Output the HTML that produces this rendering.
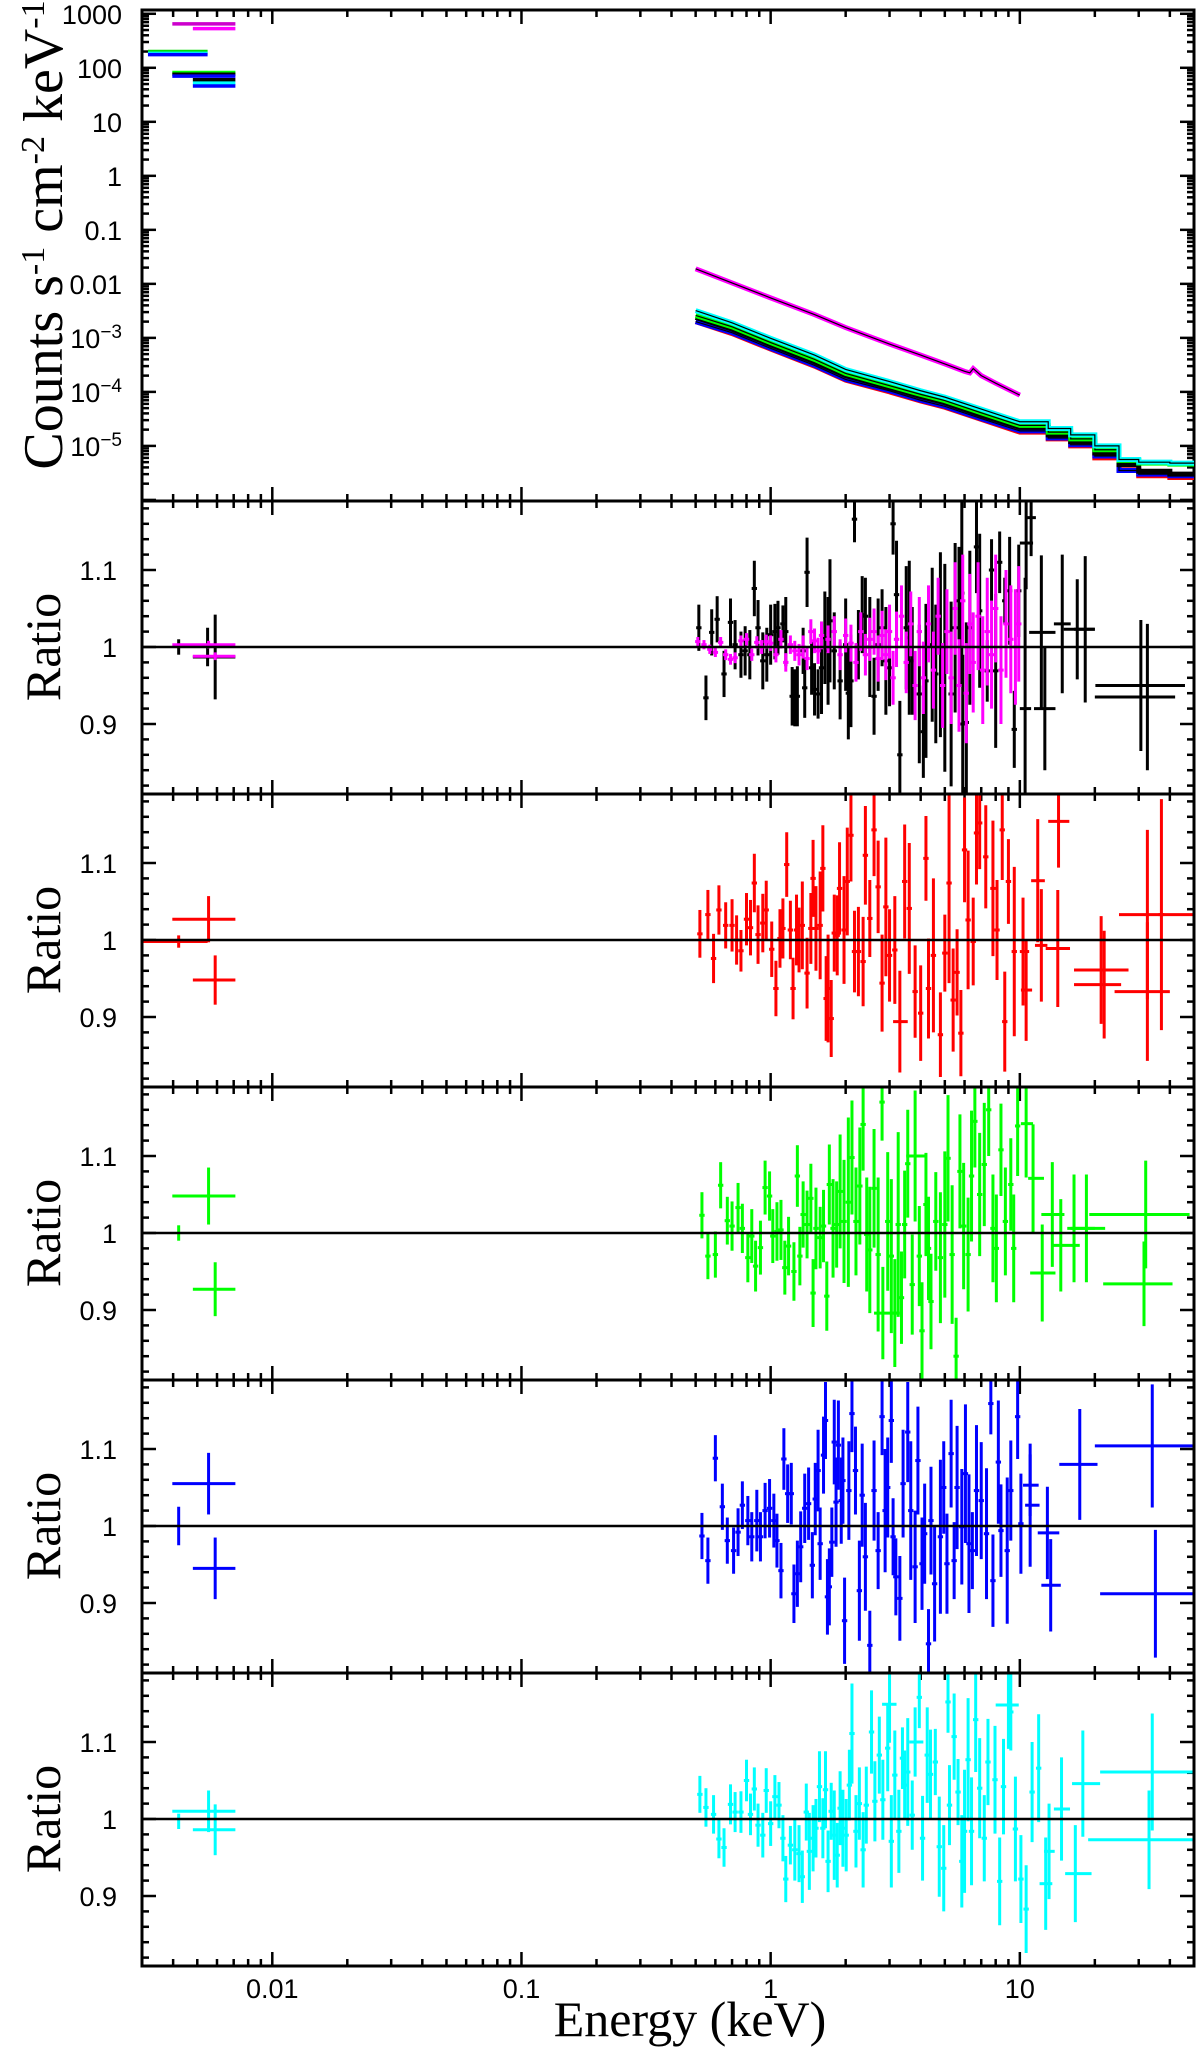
<!DOCTYPE html>
<html><head><meta charset="utf-8"><style>
html,body{margin:0;padding:0;background:#fff;}
svg{display:block;}
text{font-family:"Liberation Sans",sans-serif;}
.serif{font-family:"Liberation Serif",serif;}
</style></head>
<body>
<svg id="chart" width="1200" height="2056" viewBox="0 0 1200 2056" xmlns="http://www.w3.org/2000/svg">
<text class="serif" transform="translate(62,235) rotate(-90)" text-anchor="middle" font-size="56">Counts s<tspan baseline-shift="super" font-size="34">-1</tspan> cm<tspan baseline-shift="super" font-size="34">-2</tspan> keV<tspan baseline-shift="super" font-size="34">-1</tspan></text>
<text class="serif" x="690" y="2036" text-anchor="middle" font-size="50">Energy (keV)</text>
<g id="layer"></g>
</svg>
<script>
// ---------- data ----------
const xTickLabels = ["0.01","0.1","1","10"];
const xTickValues = [0.01,0.1,1,10];
const yTopTickValues = [1000,100,10,1,0.1,0.01,1e-3,1e-4,1e-5];
const yTopTickLabels = ["1000","100","10","1","0.1","0.01","10|−3","10|−4","10|−5"];
const ratioTickValues = [1.1,1,0.9];
const ratioTickLabels = ["1.1","1","0.9"];

// top-panel spectra (keV, counts s^-1 cm^-2 keV^-1)
const specE = [0.5,0.7,1,1.5,2,3,4,5,7,10,13,16,20,25,30,40,50];
const specBlack = [2.4e-3,1.45e-3,7.5e-4,3.6e-4,2.0e-4,1.2e-4,8.2e-5,6.3e-5,3.7e-5,2.2e-5,1.6e-5,1.2e-5,7.4e-6,4.5e-6,3.4e-6,3.0e-6,2.7e-6];
const specRed = [2.0e-3,1.2e-3,6.2e-4,3.0e-4,1.65e-4,1.0e-4,6.8e-5,5.2e-5,3.1e-5,1.8e-5,1.35e-5,1.0e-5,6.0e-6,3.6e-6,2.8e-6,2.6e-6,2.6e-6];
const specGreen = [2.6e-3,1.6e-3,8.2e-4,4.0e-4,2.2e-4,1.3e-4,9.0e-5,6.9e-5,4.1e-5,2.4e-5,1.8e-5,1.35e-5,8.5e-6,5.4e-6,4.8e-6,4.6e-6,4.6e-6];
const specBlue = [2.0e-3,1.25e-3,6.4e-4,3.1e-4,1.7e-4,1.05e-4,7.0e-5,5.4e-5,3.2e-5,1.9e-5,1.4e-5,1.05e-5,6.5e-6,3.5e-6,3.0e-6,2.8e-6,2.8e-6];
const specCyan = [3.2e-3,1.9e-3,9.8e-4,4.8e-4,2.6e-4,1.55e-4,1.05e-4,8.0e-5,4.8e-5,2.8e-5,2.1e-5,1.6e-5,1.0e-5,5.6e-6,5.0e-6,4.8e-6,4.8e-6];
const magE = [0.5,0.7,1,1.5,2,3,4,5,6,6.3,6.5,7,8,10];
const specMagenta = [0.019,0.0104,5.5e-3,2.7e-3,1.55e-3,7.7e-4,4.8e-4,3.3e-4,2.4e-4,2.25e-4,2.7e-4,2.0e-4,1.45e-4,8.7e-5];
// optical/UV bins in top panel: [Elo, Ehi, value, color]
const omTop = [[0.00397,0.00711,650,"#cc00cc"],[0.0048,0.00711,530,"#ff00ff"],[0.00317,0.0055,200,"#00dd00"],[0.00317,0.0055,185,"#00ffff"],[0.00317,0.0055,175,"#0000ff"],[0.00397,0.00711,82,"#00ff00"],[0.00397,0.00711,76,"#000000"],[0.00397,0.00711,70,"#0000ff"],[0.0048,0.00711,60,"#000000"],[0.0048,0.00711,52,"#00ffff"],[0.0048,0.00711,46,"#0000ff"]];

// ratio panels: optical points [Ec, Elo, Ehi, r, err]
const om1Black = [[0.00421,0.00421,0.00421,1.0,0.01],[0.0055,0.0055,0.0055,1.0,0.025],[0.0059,0.0048,0.00711,0.987,0.055]];
const om1Mag = [[0.00555,0.00397,0.00711,1.003,0.005],[0.0059,0.0048,0.00711,0.988,0.005]];
const om2 = [[0.00421,0.003,0.0055,0.998,0.008],[0.00555,0.00397,0.00711,1.027,0.03],[0.0059,0.0048,0.00711,0.948,0.032]];
const om3 = [[0.00421,0.00421,0.00421,1.0,0.01],[0.00555,0.00397,0.00711,1.048,0.037],[0.0059,0.0048,0.00711,0.927,0.035]];
const om4 = [[0.00421,0.00421,0.00421,1.0,0.025],[0.00555,0.00397,0.00711,1.055,0.04],[0.0059,0.0048,0.00711,0.945,0.04]];
const om5 = [[0.00421,0.00421,0.00421,0.997,0.01],[0.00555,0.00397,0.00711,1.01,0.027],[0.0059,0.0048,0.00711,0.986,0.033]];

// X-ray points [E, r, err]
const blackPts = [[0.515,1.025,.03],[0.55,.934,.029],[0.58,1.019,.03],[0.61,1.036,.03],[0.65,.965,.03],[0.69,1.032,.031],[0.72,1.003,.032],[0.76,.99,.03],[0.79,.995,.032],[0.825,.99,.032],[0.86,1.076,.036],[0.89,1.025,.036],[0.93,.982,.037],[0.965,.99,.035],[1.0,1.016,.039],[1.04,1.02,.036],[1.07,1.025,.035],[1.12,1.03,.024],[1.15,1.02,.045],[1.22,.936,.038],[1.25,.934,.037],[1.28,.936,.039],[1.35,.995,.03],[1.37,.947,.039],[1.4,1.097,.045],[1.46,.973,.035],[1.5,.945,.034],[1.55,.939,.032],[1.6,.973,.06],[1.65,1.012,.06],[1.7,.995,.07],[1.73,1.034,.08],[1.8,.995,.05],[1.9,.956,.05],[2.0,1.003,.06],[2.05,.94,.06],[2.1,.956,.06],[2.17,1.166,.03],[2.25,1.003,.045],[2.33,1.042,.05],[2.4,1.04,.05],[2.5,1.0,.065],[2.6,.936,.05],[2.7,1.003,.06],[2.8,1.025,.05],[2.9,.982,.07],[3.0,.973,.05],[3.1,1.16,.04],[3.2,1.068,.07],[3.3,.86,.07],[3.5,1.025,.08],[3.6,1.012,.1],[3.7,.982,.07],[3.95,.939,.09],[4.1,.89,.06],[4.2,.956,.1],[4.45,1.003,.1],[4.6,.965,.09],[4.8,1.003,.12],[5.0,.973,.135],[5.3,.939,.12],[5.5,1.025,.11],[5.7,1.06,.07],[5.85,1.07,.12],[5.9,.9,.09],[6.1,.902,.13],[6.3,1.025,.1],[6.7,1.13,.06],[6.9,1.047,.1],[7.4,.969,.04],[7.7,1.1,.04],[8.0,.969,.1],[8.3,1.11,.04],[8.7,1.06,.03],[9.1,1.073,.07],[9.5,.893,.05],[9.9,1.073,.06]];
const blackWide = [[10.5,10.0,11.1,.92,.17],[10.6,10.0,11.3,1.135,.06],[11.1,10.6,11.6,1.168,.05],[12.2,10.9,13.9,1.019,.1],[12.6,11.4,13.9,.92,.08],[14.8,13.7,16.0,1.03,.09],[17.0,15.0,20.0,1.023,.065],[18.3,16.5,20.0,1.023,.095],[30.6,20.1,46.0,.95,.085],[32.5,20.0,42.0,.935,.095]];
const magPts = [[0.51,1.007,.006],[0.54,1.003,.006],[0.57,.997,.006],[0.6,.993,.006],[0.63,1.006,.007],[0.66,.99,.007],[0.69,.984,.007],[0.72,.986,.007],[0.76,1.008,.007],[0.8,1.01,.008],[0.84,.99,.008],[0.88,1.006,.008],[0.92,1.0,.009],[0.96,1.007,.009],[1.0,1.005,.01],[1.05,.99,.01],[1.1,1.01,.012],[1.15,.98,.012],[1.2,1.003,.012],[1.25,.995,.013],[1.3,.99,.014],[1.35,1.0,.015],[1.4,.985,.015],[1.45,1.02,.016],[1.5,1.008,.016],[1.55,.995,.017],[1.6,1.015,.018],[1.7,1.01,.018],[1.8,1.02,.02],[1.9,.99,.02],[2.0,1.015,.022],[2.1,1.005,.024],[2.2,.98,.025],[2.3,1.02,.025],[2.4,.99,.027],[2.5,1.01,.028],[2.6,1.02,.03],[2.7,.985,.03],[2.8,1.015,.032],[2.9,.99,.033],[3.0,1.02,.035],[3.1,.96,.035],[3.2,1.01,.036],[3.35,1.04,.04],[3.5,.98,.04],[3.65,1.03,.042],[3.8,.95,.045],[3.95,1.02,.045],[4.1,.96,.047],[4.3,1.03,.05],[4.5,.97,.05],[4.7,1.04,.05],[4.9,.95,.055],[5.1,1.02,.055],[5.3,.96,.06],[5.5,1.05,.06],[5.7,.95,.06],[5.9,1.06,.06],[6.1,.94,.065],[6.3,1.03,.065],[6.5,.98,.065],[6.8,1.04,.07],[7.1,.97,.07],[7.4,1.02,.07],[7.7,.99,.07],[8.0,1.05,.07],[8.4,.97,.07],[8.8,1.03,.07],[9.2,1.01,.07],[9.6,1.0,.075],[9.9,1.03,.075]];
const redPts = [[0.52,1.008,.031],[0.56,1.033,.032],[0.59,.976,.032],[0.62,1.039,.032],[0.66,1.019,.03],[0.7,1.019,.034],[0.73,1.0,.032],[0.76,.986,.027],[0.8,1.027,.034],[0.83,1.016,.036],[0.86,1.074,.038],[0.89,1.007,.038],[0.93,1.022,.038],[0.96,1.039,.038],[1.01,.988,.036],[1.05,.937,.036],[1.09,1.002,.038],[1.12,1.015,.039],[1.16,1.098,.042],[1.2,1.013,.038],[1.23,.937,.04],[1.27,1.013,.046],[1.3,1.0,.042],[1.34,1.019,.057],[1.4,.957,.046],[1.45,1.015,.046],[1.48,1.08,.05],[1.52,1.015,.055],[1.58,1.019,.07],[1.62,1.093,.056],[1.67,.924,.055],[1.7,.937,.07],[1.75,.898,.05],[1.8,1.009,.05],[1.85,1.006,.052],[1.89,1.067,.06],[1.97,1.013,.07],[2.03,1.076,.07],[2.1,1.136,.06],[2.17,.985,.053],[2.25,.985,.058],[2.35,.972,.058],[2.4,1.11,.064],[2.5,1.028,.05],[2.6,1.143,.06],[2.7,1.069,.06],[2.8,.944,.063],[2.9,1.043,.09],[3.0,.98,.06],[3.15,.987,.07],[3.45,1.076,.074],[3.6,1.041,.085],[3.8,.933,.06],[4.0,.905,.062],[4.2,1.106,.055],[4.3,.937,.065],[4.5,.98,.1],[4.8,.877,.055],[5.0,.983,.05],[5.2,1.074,.13],[5.4,.922,.067],[5.6,.958,.056],[5.8,.879,.056],[6.0,1.117,.068],[6.2,1.026,.09],[6.5,.998,.057],[6.7,1.139,.067],[6.9,1.152,.06],[7.3,1.108,.067],[7.8,1.067,.088],[8.1,1.013,.065],[8.5,1.143,.065],[8.7,.894,.065],[9.0,1.076,.055],[9.5,.985,.11]];
const redWide = [[3.3,3.1,3.55,.894,.066],[10.3,10.0,10.9,.985,.07],[10.6,10.1,11.2,.935,.066],[11.8,11.1,12.6,1.077,.08],[12.2,11.5,12.9,.993,.073],[14.2,12.7,15.9,.989,.076],[14.3,13.0,15.8,1.154,.06],[21.2,16.5,27.3,.961,.07],[21.8,16.5,25.5,.942,.07],[32.5,25.0,50.0,1.033,.11],[32.5,24.0,40.0,.933,.09],[37.0,36.0,38.0,1.033,.15]];
const greenPts = [[0.53,1.023,.03],[0.56,.97,.03],[0.6,.972,.03],[0.63,1.062,.03],[0.67,1.016,.031],[0.7,1.009,.032],[0.74,1.033,.032],[0.77,1.006,.032],[0.81,.968,.032],[0.84,.996,.035],[0.87,.957,.033],[0.91,.981,.035],[0.95,1.059,.035],[0.99,1.048,.032],[1.02,.996,.035],[1.06,1.002,.038],[1.1,1.004,.039],[1.14,.955,.035],[1.18,.983,.038],[1.24,.95,.038],[1.28,1.074,.04],[1.31,.97,.038],[1.35,1.024,.043],[1.4,1.011,.044],[1.45,1.045,.045],[1.48,.922,.044],[1.52,1.006,.053],[1.58,.994,.04],[1.63,1.009,.047],[1.68,.918,.045],[1.72,1.063,.052],[1.78,1.006,.064],[1.84,1.011,.056],[1.9,1.054,.074],[1.97,1.015,.08],[2.05,1.04,.11],[2.12,1.098,.074],[2.2,1.015,.07],[2.28,1.061,.076],[2.35,1.141,.06],[2.43,.998,.074],[2.5,.978,.082],[2.6,1.058,.077],[2.7,.972,.1],[2.8,1.17,.05],[2.95,1.015,.09],[3.05,.97,.1],[3.15,.896,.07],[3.25,1.011,.12],[3.35,.916,.06],[3.45,1.011,.07],[3.55,1.09,.07],[3.7,.933,.065],[3.95,.97,.065],[4.05,.873,.063],[4.2,1.037,.067],[4.3,.98,.067],[4.4,.911,.062],[4.6,1.015,.064],[4.8,.968,.085],[5.0,1.011,.095],[5.15,1.097,.082],[5.35,.972,.09],[5.55,.84,.05],[5.75,1.08,.074],[5.95,1.009,.082],[6.2,.972,.074],[6.4,1.074,.085],[6.6,1.145,.06],[6.9,1.05,.08],[7.2,1.089,.08],[7.5,1.16,.06],[7.8,1.006,.07],[8.05,.98,.07],[8.4,1.108,.06],[8.75,1.015,.07],[9.2,1.063,.06],[9.45,.98,.07],[9.8,1.139,.065]];
const greenWide = [[2.82,2.6,3.3,.896,.06],[3.8,3.5,4.2,1.1,.085],[10.6,10.1,11.3,1.142,.07],[11.3,10.8,12.5,1.071,.07],[12.3,11.0,13.9,.948,.063],[13.5,12.2,15.1,1.024,.068],[14.6,13.5,17.4,.984,.06],[16.5,15.5,20.0,1.006,.07],[18.5,16.0,22.0,1.006,.07],[32.0,19.0,48.0,1.024,.07],[31.5,21.6,41.0,.934,.055]];
const bluePts = [[0.53,.987,.03],[0.56,.955,.03],[0.6,1.088,.03],[0.64,1.025,.03],[0.67,.981,.03],[0.71,.968,.03],[0.74,.992,.031],[0.77,1.027,.031],[0.81,1.007,.032],[0.84,.986,.032],[0.88,1.007,.04],[0.91,.986,.032],[0.95,1.02,.036],[0.99,1.023,.038],[1.03,1.007,.035],[1.06,.981,.035],[1.1,.942,.036],[1.13,1.087,.04],[1.17,1.042,.038],[1.21,1.042,.04],[1.24,.912,.038],[1.28,.938,.043],[1.32,.973,.046],[1.37,1.023,.045],[1.42,1.029,.047],[1.47,.949,.043],[1.51,1.035,.047],[1.55,1.072,.053],[1.58,.977,.047],[1.63,1.092,.05],[1.66,1.137,.05],[1.69,.908,.049],[1.72,.921,.05],[1.76,.979,.045],[1.8,1.109,.055],[1.83,1.031,.058],[1.87,1.105,.058],[1.92,1.033,.056],[1.95,1.059,.056],[1.98,.877,.056],[2.06,1.046,.064],[2.12,1.146,.05],[2.19,1.072,.057],[2.27,.916,.065],[2.33,1.04,.067],[2.4,.96,.07],[2.5,.845,.045],[2.6,1.046,.065],[2.7,.968,.05],[2.8,1.142,.05],[2.88,1.02,.08],[2.95,1.05,.065],[3.05,1.137,.055],[3.1,.986,.05],[3.18,.934,.05],[3.3,.906,.055],[3.4,1.055,.07],[3.55,1.122,.065],[3.65,1.02,.09],[3.8,.947,.073],[3.9,1.085,.07],[4.05,.951,.06],[4.15,.99,.065],[4.3,.847,.045],[4.4,1.007,.07],[4.55,.925,.075],[4.8,.986,.1],[4.95,1.05,.06],[5.1,.951,.065],[5.3,1.094,.07],[5.45,.955,.05],[5.6,1.05,.08],[5.85,.999,.075],[6.05,1.068,.09],[6.25,.977,.09],[6.45,.968,.05],[6.7,1.046,.085],[7.0,1.033,.076],[7.35,.99,.085],[7.65,1.159,.04],[7.8,.929,.06],[8.2,1.083,.08],[8.4,.994,.06],[8.9,.968,.095],[9.2,1.046,.065],[9.8,1.142,.055],[10.1,1.003,.065]];
const blueWide = [[11.0,10.5,12.0,1.027,.08],[11.0,10.3,11.9,1.053,.04],[12.9,11.8,14.4,.991,.06],[13.3,12.2,14.6,.923,.06],[17.4,14.4,20.5,1.08,.072],[34.0,20.0,50.0,1.104,.08],[35.0,21.0,50.0,.912,.083]];
const cyanPts = [[0.52,1.032,.024],[0.55,1.015,.025],[0.59,1.006,.025],[0.62,.974,.025],[0.65,.963,.025],[0.69,1.019,.026],[0.72,1.009,.026],[0.76,1.009,.027],[0.8,1.05,.027],[0.83,1.006,.027],[0.86,1.039,.028],[0.89,.992,.028],[0.93,.979,.029],[0.96,1.037,.029],[1.0,.994,.029],[1.04,1.029,.028],[1.08,1.018,.03],[1.12,.975,.03],[1.15,.922,.03],[1.2,.966,.025],[1.25,.96,.04],[1.3,.955,.037],[1.34,.925,.034],[1.39,1.009,.037],[1.43,.958,.05],[1.48,.975,.043],[1.52,.988,.038],[1.57,1.042,.046],[1.62,.988,.039],[1.66,1.038,.05],[1.7,.945,.04],[1.75,1.01,.037],[1.8,.979,.058],[1.85,.953,.042],[1.9,1.014,.048],[1.95,.988,.05],[2.01,.979,.047],[2.07,1.044,.046],[2.12,1.111,.065],[2.2,.984,.047],[2.27,1.02,.047],[2.35,.96,.049],[2.42,1.018,.05],[2.54,1.113,.054],[2.62,1.023,.052],[2.73,1.083,.05],[2.82,1.025,.052],[2.95,1.092,.056],[3.05,.971,.06],[3.15,1.057,.058],[3.27,.984,.054],[3.38,1.079,.04],[3.45,1.044,.045],[3.55,1.061,.07],[3.7,1.005,.045],[3.95,1.158,.04],[4.07,.975,.055],[4.25,1.083,.062],[4.38,1.058,.058],[4.58,1.074,.043],[4.75,.964,.065],[4.95,.936,.056],[5.15,1.152,.04],[5.22,1.018,.052],[5.45,1.107,.056],[5.65,1.035,.043],[5.85,.945,.06],[6.0,.984,.08],[6.2,1.077,.08],[6.4,.984,.07],[6.65,1.129,.068],[6.9,1.04,.065],[7.2,.975,.056],[7.45,1.074,.056],[7.95,1.051,.07],[8.3,.919,.057],[8.6,1.042,.062],[9.2,1.139,.05],[9.6,.987,.068],[10.1,.922,.057],[10.6,.883,.057],[11.2,1.035,.065],[11.9,1.066,.07]];
const cyanWide = [[3.0,2.8,3.2,1.149,.05],[3.8,3.6,4.1,1.1,.045],[9.0,8.0,9.9,1.148,.057],[12.7,12.0,13.5,.916,.06],[13.1,12.5,13.8,.958,.062],[14.7,13.7,15.9,1.013,.067],[16.7,15.2,19.4,.929,.063],[17.9,16.2,21.0,1.046,.069],[34.0,21.0,50.0,1.061,.076],[33.0,18.8,50.0,.973,.064]];

// ---------- geometry ----------
const NS = "http://www.w3.org/2000/svg";
const L = 142, R = 1194, TOP0 = 10, TOP1 = 501, PH = 293;
const LOGX0 = Math.log10(0.003), LOGX1 = Math.log10(50);
const LOGY0 = -6.02, LOGY1 = 3.07;
function xs(E){ return L + (Math.log10(E) - LOGX0) / (LOGX1 - LOGX0) * (R - L); }
function ysTop(v){ return TOP1 - (Math.log10(v) - LOGY0) / (LOGY1 - LOGY0) * (TOP1 - TOP0); }
function yr(i, r){ const t = TOP1 + PH * i; return t + 146 - (r - 1) * 770; }
const layer = document.getElementById('layer');
function mk(tag, attrs, parent){ const e = document.createElementNS(NS, tag); for (const k in attrs) e.setAttribute(k, attrs[k]); (parent || layer).appendChild(e); return e; }

const defs = mk('defs', {});
function clip(id, y0, y1){ const c = mk('clipPath', {id: id}, defs); mk('rect', {x: L, y: y0, width: R - L, height: y1 - y0}, c); }
clip('c0', TOP0, TOP1);
for (let i = 0; i < 5; i++) clip('c' + (i + 1), TOP1 + PH * i, TOP1 + PH * (i + 1));

function xTicks(y0, y1, g){
  for (let d = -3; d <= 1; d++) for (let m = 1; m <= 9; m++) {
    const E = m * Math.pow(10, d); if (E < 0.003 || E > 50) continue;
    const len = m === 1 ? 14 : 7; const x = xs(E);
    mk('line', {x1: x, y1: y1, x2: x, y2: y1 - len, stroke: '#000', 'stroke-width': 2.5}, g);
    mk('line', {x1: x, y1: y0, x2: x, y2: y0 + len, stroke: '#000', 'stroke-width': 2.5}, g);
  }
}
const gTop = mk('g', {});


xTicks(TOP0, TOP1, gTop);
for (let d = -7; d <= 3; d++) for (let m = 1; m <= 9; m++) {
  const v = m * Math.pow(10, d); const y = ysTop(v); if (y < TOP0 || y > TOP1) continue;
  const len = m === 1 ? 14 : 7;
  mk('line', {x1: L, y1: y, x2: L + len, y2: y, stroke: '#000', 'stroke-width': 2.5}, gTop);
  mk('line', {x1: R, y1: y, x2: R - len, y2: y, stroke: '#000', 'stroke-width': 2.5}, gTop);
}
yTopTickValues.forEach((v, k) => {
  const lab = yTopTickLabels[k]; const t = mk('text', {x: 122, y: ysTop(v) + 10, 'text-anchor': 'end', 'font-size': 27}, gTop);
  
  
  if (lab.indexOf('|') >= 0) { const p = lab.split('|'); t.textContent = p[0]; const s = mk('tspan', {'font-size': 19, dy: -10}, t); s.textContent = p[1]; }
  else t.textContent = lab;
});
mk('rect', {x: L, y: TOP0, width: R - L, height: TOP1 - TOP0, fill: 'none', stroke: '#000', 'stroke-width': 3}, gTop);

const gSpec = mk('g', {'clip-path': 'url(#c0)'});


function specLine(Es, vals, color, name){
  let d = '';
  for (let k = 0; k < Es.length; k++) {
    const x = xs(Es[k]), y = ysTop(vals[k]);
    if (k === 0) d += 'M' + x + ',' + y;
    else if (Es[k] > 10) { d += 'H' + x + 'V' + y; }
    else d += 'L' + x + ',' + y;
  }
  const p = mk('path', {d: d, fill: 'none', stroke: color, 'stroke-width': 5}, gSpec);
  
  
  const m = mk('path', {d: d, fill: 'none', stroke: '#000', 'stroke-width': 1.2}, gSpec);
  
  
}
specLine(specE, specRed, '#ff0000', 'spectrum-red');
specLine(specE, specBlue, '#0000ff', 'spectrum-blue');
specLine(specE, specBlack, '#000000', 'spectrum-black');
specLine(specE, specGreen, '#00ff00', 'spectrum-green');
specLine(specE, specCyan, '#00ffff', 'spectrum-cyan');
specLine(magE, specMagenta, '#ff00ff', 'spectrum-magenta');
omTop.forEach(o => {
  const l = mk('line', {x1: xs(o[0]), x2: xs(o[1]), y1: ysTop(o[2]), y2: ysTop(o[2]), stroke: o[3], 'stroke-width': 3.5}, gSpec);
  
  
});

function cross(g, i, E, lo, hi, r, err, color, w){
  const x = xs(E);
  const v = mk('line', {x1: x, x2: x, y1: yr(i, r - err), y2: yr(i, r + err), stroke: color, 'stroke-width': w}, g);
  
  
  const h = mk('line', {x1: xs(lo), x2: xs(hi), y1: yr(i, r), y2: yr(i, r), stroke: color, 'stroke-width': w}, g);
  
  
}
function ratioPanel(i, sets){
  const t = TOP1 + PH * i, b = t + PH;
  const g = mk('g', {});
  
  
  xTicks(t, b, g);
  for (let k = 0; k <= 20; k++) {
    const r = 0.8 + k * 0.02; const y = yr(i, r); if (y < t || y > b) continue;
    const major = Math.abs(((r * 100) % 10)) < 0.5 || Math.abs(((r * 100) % 10) - 10) < 0.5; const len = major ? 14 : 7;
    mk('line', {x1: L, y1: y, x2: L + len, y2: y, stroke: '#000', 'stroke-width': 2.5}, g);
    mk('line', {x1: R, y1: y, x2: R - len, y2: y, stroke: '#000', 'stroke-width': 2.5}, g);
  }
  ratioTickValues.forEach((v, k) => {
    const tx = mk('text', {x: 117, y: yr(i, v) + 10, 'text-anchor': 'end', 'font-size': 27}, g);
    
    
    tx.textContent = ratioTickLabels[k];
  });
  const lab = mk('text', {'class': 'serif', transform: 'translate(60,' + (t + 146) + ') rotate(-90)', 'text-anchor': 'middle', 'font-size': 50}, g);
  
  
  lab.textContent = 'Ratio';
  const gd = mk('g', {'clip-path': 'url(#c' + (i + 1) + ')'}, g);
  sets.forEach(s => {
    s.pts.forEach(p => cross(gd, i, p[0], p[0] / 1.025, p[0] * 1.025, p[1], p[2], s.color, 3));
    (s.wide || []).forEach(p => cross(gd, i, p[0], p[1], p[2], p[3], p[4], s.color, 3));
    (s.om || []).forEach(p => cross(gd, i, p[0], p[1], p[2], p[3], p[4], s.color, 3));
  });
  const one = mk('line', {x1: L, x2: R, y1: yr(i, 1), y2: yr(i, 1), stroke: '#000', 'stroke-width': 2.5}, g);
  
  
  mk('rect', {x: L, y: t, width: R - L, height: PH, fill: 'none', stroke: '#000', 'stroke-width': 3}, g);
}
ratioPanel(0, [{pts: blackPts, wide: blackWide, om: om1Black, color: '#000000'}, {pts: magPts, om: om1Mag, color: '#ff00ff'}]);
ratioPanel(1, [{pts: redPts, wide: redWide, om: om2, color: '#ff0000'}]);
ratioPanel(2, [{pts: greenPts, wide: greenWide, om: om3, color: '#00ff00'}]);
ratioPanel(3, [{pts: bluePts, wide: blueWide, om: om4, color: '#0000ff'}]);
ratioPanel(4, [{pts: cyanPts, wide: cyanWide, om: om5, color: '#00ffff'}]);

xTickValues.forEach((v, k) => {
  const t = mk('text', {x: xs(v), y: 1998, 'text-anchor': 'middle', 'font-size': 27});
  
  
  t.textContent = xTickLabels[k];
});
</script>
</body></html>
